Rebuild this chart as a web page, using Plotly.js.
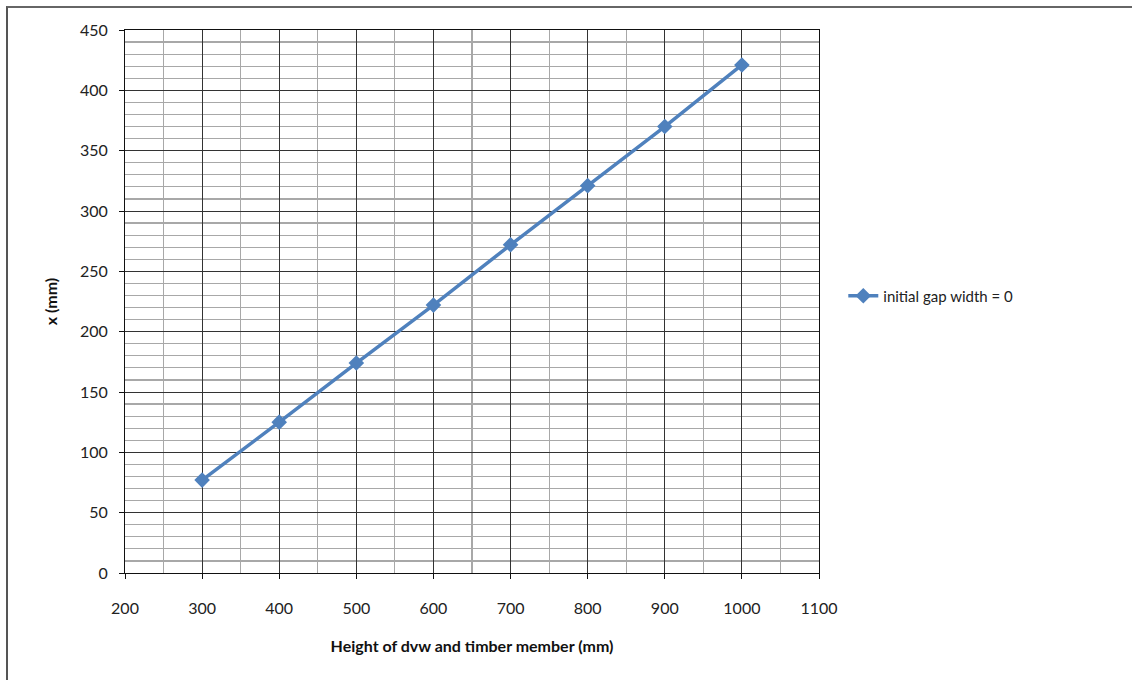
<!DOCTYPE html>
<html>
<head>
<meta charset="utf-8">
<script src="https://cdn.plot.ly/plotly-3.0.1.min.js"></script>
<style>
html,body{margin:0;padding:0;background:#fff;}
#wrap{position:relative;width:1132px;height:680px;overflow:hidden;}
#chart{width:1132px;height:680px;}
#frame{position:absolute;left:6px;top:6px;width:2000px;height:2000px;border-left:2px solid #555;border-top:2px solid #666;pointer-events:none;}
</style>
</head>
<body>
<div id="wrap"><div id="chart"></div><div id="frame"></div></div>
<script>
var heights = [300, 400, 500, 600, 700, 800, 900, 1000];
var xValues = [77, 125, 174, 222, 272, 321, 370, 421];
var seriesName = "initial gap width = 0";
var xTitle = "Height of dvw and timber member (mm)";
var yTitle = "x (mm)";

var font = "Lato, 'Open Sans', sans-serif";
var blue = "#4f81bd";

var trace = {
  x: heights, y: xValues, name: seriesName,
  type: "scatter", mode: "lines+markers",
  line: {color: blue, width: 3.5},
  marker: {symbol: "diamond", size: 12, color: blue}
};

var layout = {
  width: 1132, height: 680,
  margin: {l: 125, r: 312.5, t: 29.5, b: 106.5},
  paper_bgcolor: "#fff", plot_bgcolor: "#fff",
  font: {family: font, size: 16, color: "#222"},
  showlegend: true,
  legend: {x: 1.035, y: 0.51, xanchor: "left", yanchor: "middle",
    font: {family: font, size: 15, color: "#222"}, itemwidth: 30, tracegroupgap: 0},
  xaxis: {
    range: [200, 1100], dtick: 100, tick0: 200,
    showgrid: true, gridcolor: "#333", gridwidth: 1,
    minor: {dtick: 50, showgrid: true, gridcolor: "#a8a8a8", gridwidth: 1.2, ticks: ""},
    showline: true, linecolor: "#111", linewidth: 1, mirror: true,
    ticks: "outside", ticklen: 5, tickcolor: "#111",
    ticklabelstandoff: 16,
    zeroline: false,
    tickfont: {family: font, size: 16, color: "#222"},
    title: {text: xTitle, font: {family: font, size: 16, color: "#111", weight: "bold"}, standoff: 24}
  },
  yaxis: {
    range: [0, 450], dtick: 50, tick0: 0,
    showgrid: true, gridcolor: "#333", gridwidth: 1,
    minor: {dtick: 10, showgrid: true, gridcolor: "#a8a8a8", gridwidth: 1.2, ticks: ""},
    showline: true, linecolor: "#111", linewidth: 1, mirror: true,
    ticks: "outside", ticklen: 5, tickcolor: "#111",
    ticklabelstandoff: 8,
    zeroline: false,
    tickfont: {family: font, size: 16, color: "#222"},
    title: {text: yTitle, font: {family: font, size: 16, color: "#111", weight: "bold"}, standoff: 18}
  }
};

Plotly.newPlot("chart", [trace], layout, {displayModeBar: false, staticPlot: true});
</script>
</body>
</html>
